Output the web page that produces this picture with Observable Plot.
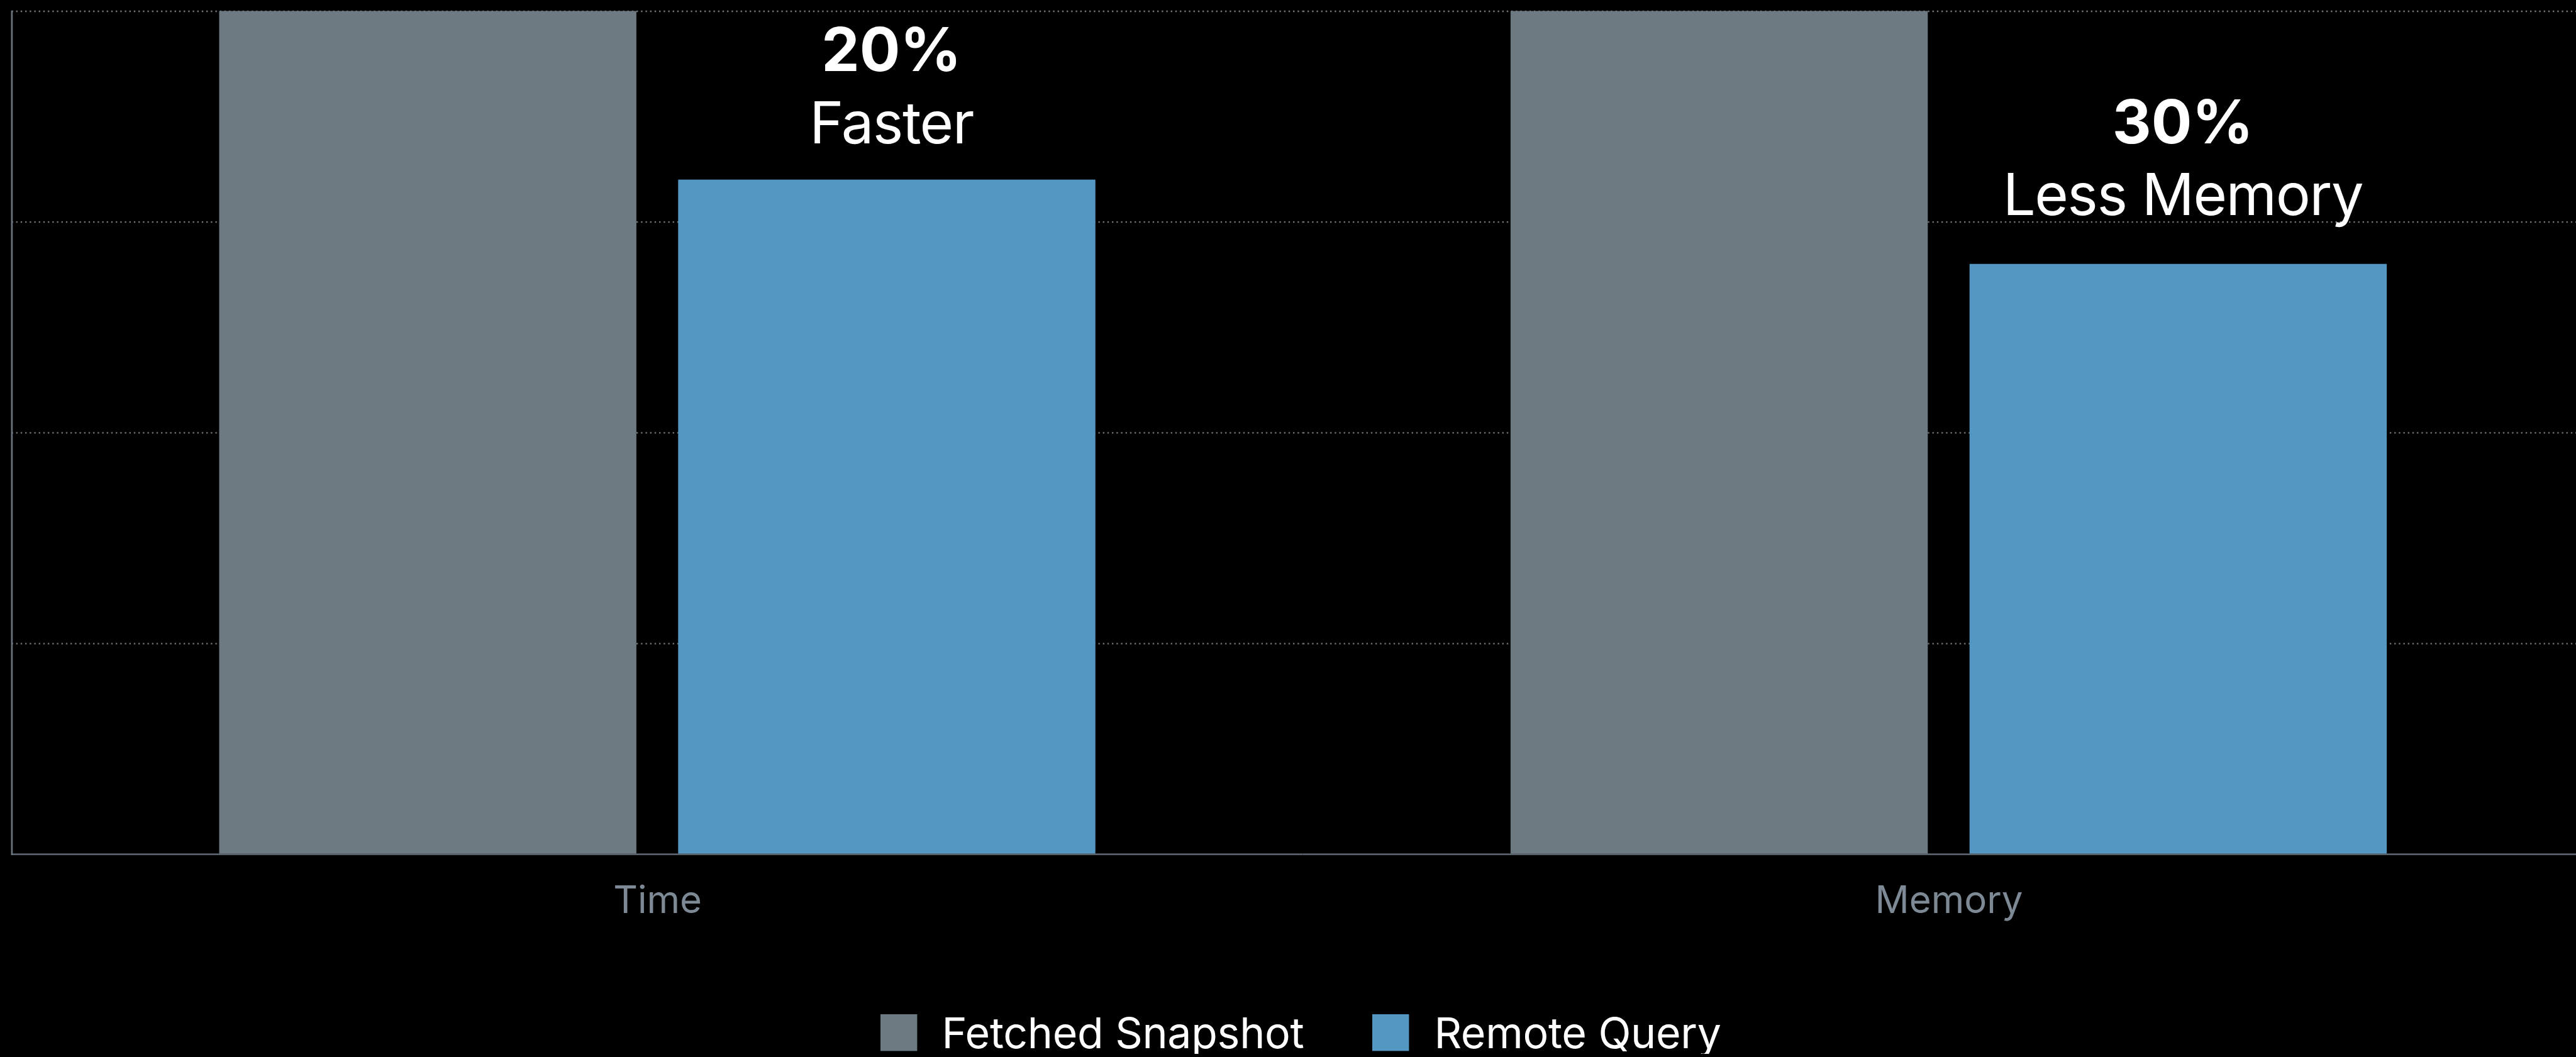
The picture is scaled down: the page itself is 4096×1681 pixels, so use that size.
<!DOCTYPE html>
<html>
<head>
<meta charset="utf-8">
<script src="https://cdn.jsdelivr.net/npm/d3@7"></script>
<script src="https://cdn.jsdelivr.net/npm/@observablehq/plot@0.6"></script>
<style>
  html, body { margin: 0; padding: 0; background: #000; overflow: hidden; }
  #chart svg { display: block; }
  .lg-swatches {
    font-family: Inter, "Noto Sans", sans-serif;
    font-size: 68px;
    line-height: 1;
    letter-spacing: -0.3px;
    color: #fff;
    margin: 0;
    min-height: 0;
    padding: 8px 0 0 1399.5px;
    display: flex;
    align-items: center;
  }
  .lg-swatch { margin-right: 109px; }
  .lg-swatch > svg { margin-right: 39.5px; }
</style>
</head>
<body>
<div id="chart"></div>
<script>
// ---- data ----
const categories = ["Time", "Memory"];
const series = ["Fetched Snapshot", "Remote Query"];
const fetchedSnapshot = [100, 100];
const remoteQuery = [80, 70];
const gridValues = [25, 50, 75, 100];
const percentText = ["20%", "30%"];
const changeText = ["Faster", "Less Memory"];
const percentLevel = [92.9, 84.3];   // baseline of the bold % line, in value units
const changeLevel = [84.3, 75.8];    // baseline of the caption line, in value units
const colors = ["#6e7a81", "#5597c3"];

// ---- tables built from the arrays ----
const bars = categories.flatMap((c, i) => [
  {category: c, series: series[0], value: fetchedSnapshot[i]},
  {category: c, series: series[1], value: remoteQuery[i]}
]);
const notes = categories.map((c, i) => ({
  category: c, series: series[1],
  pct: percentText[i], label: changeText[i],
  pctY: percentLevel[i], labelY: changeLevel[i]
}));

const W = 4096, H = 1600;
const chart = Plot.plot({
  width: W,
  height: H,
  marginTop: 17.5,
  marginBottom: H - 1358.2,
  marginLeft: 18.4,
  marginRight: -29.2,
  style: {background: "#000", color: "#fff", fontFamily: "Inter, 'Noto Sans', sans-serif"},
  fx: {domain: categories, paddingInner: 0, paddingOuter: 0, round: false},
  x: {domain: series, paddingInner: 0.091, paddingOuter: 0.4523, round: false, axis: null},
  y: {domain: [0, 100], axis: null},
  color: {domain: series, range: colors},
  marks: [
    Plot.ruleY(gridValues, {stroke: "#6f787f", strokeWidth: 2.3, strokeDasharray: "2.4 4.8"}),
    Plot.barY(bars, {fx: "category", x: "series", y: "value", fill: "series"}),
    Plot.ruleY([0], {stroke: "#58616a", strokeWidth: 2.7}),
    Plot.frame({anchor: "left", facetAnchor: "left", stroke: "#6c757e", strokeWidth: 2.7}),
    Plot.axisFx({anchor: "bottom", tickSize: 0, tickPadding: 51, fontSize: 60, fill: "#7d8994", label: null}),
    Plot.text(notes, {fx: "category", x: "series", y: "pctY", text: "pct", fontWeight: 700, fontSize: 96, lineAnchor: "bottom", dx: 7, fill: "#fff"}),
    Plot.text(notes, {fx: "category", x: "series", y: "labelY", text: "label", fontSize: 92, lineAnchor: "bottom", dx: 7, fill: "#fff", style: "letter-spacing:-1.5px"})
  ]
});
document.getElementById("chart").appendChild(chart);
chart.querySelectorAll("text").forEach(t => {
  if (t.textContent === changeText[0] || t.textContent === changeText[1]) t.style.letterSpacing = "-1.5px";
});

const legend = Plot.legend({
  color: {type: "ordinal", domain: series, range: colors},
  swatchSize: 58.4,
  className: "lg"
});
document.getElementById("chart").appendChild(legend);
</script>
</body>
</html>
